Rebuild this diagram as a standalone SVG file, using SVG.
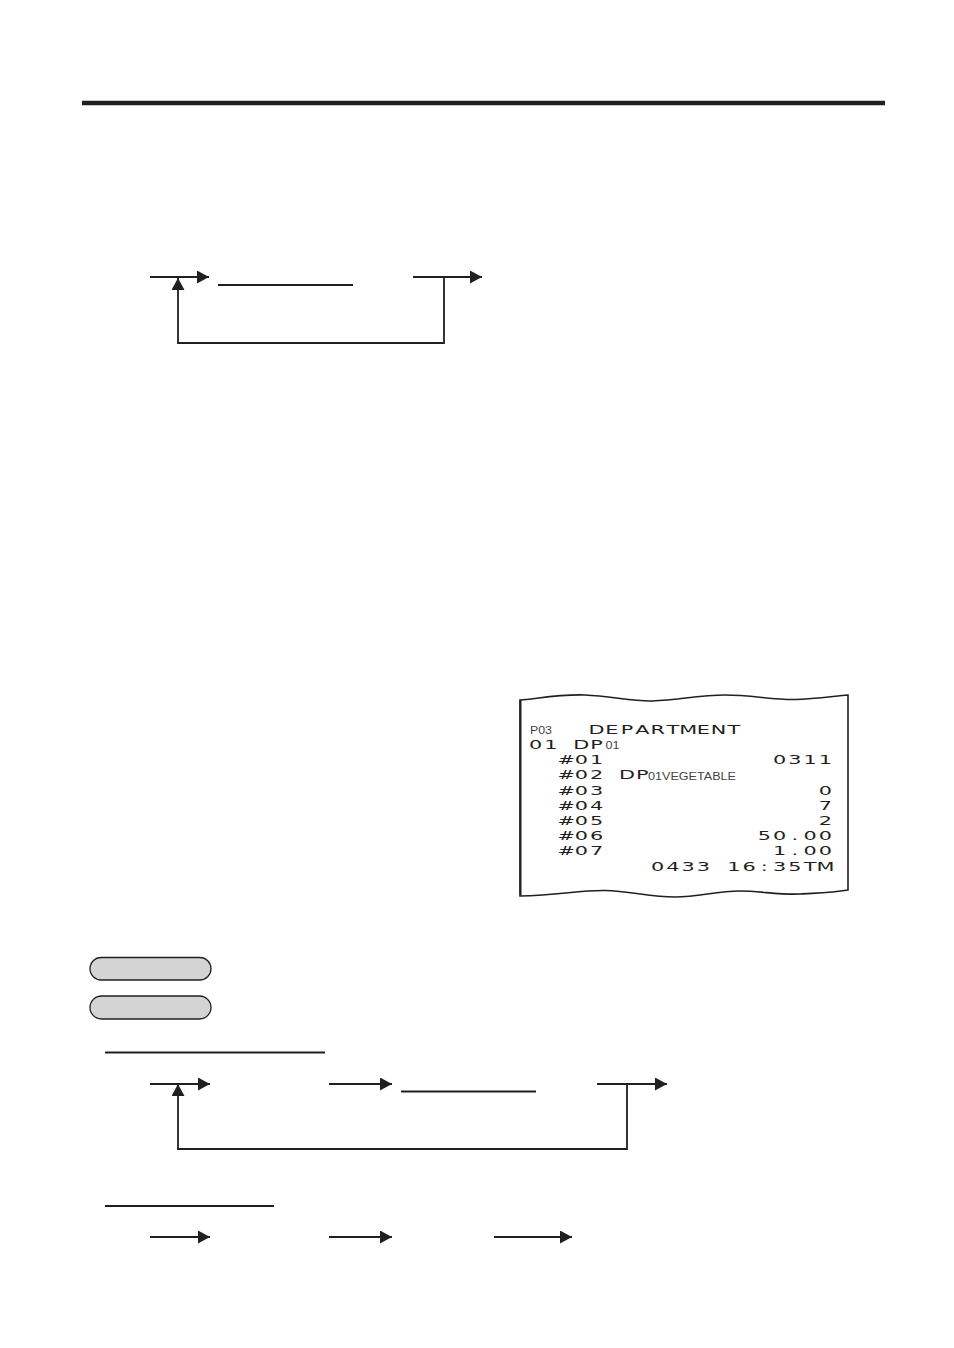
<svg xmlns="http://www.w3.org/2000/svg" width="954" height="1348" viewBox="0 0 954 1348">
<style>
.ln{stroke:#231f20;stroke-width:1.8;fill:none}
.ul{stroke:#231f20;stroke-width:2;fill:none}
.pill{fill:#d4d4d4;stroke:#231f20;stroke-width:1.3}
.rc{font-family:"DejaVu Sans","Liberation Sans",sans-serif;font-size:13px;fill:#231f20;text-anchor:middle}
.sm{font-family:"Liberation Sans",Arial,sans-serif;font-size:10px;fill:#444}
</style>
<defs>
<marker id="ah" markerUnits="userSpaceOnUse" markerWidth="12" markerHeight="13" refX="12" refY="6.5" orient="auto">
<path d="M0,0 L12,6.5 L0,13 Z" fill="#231f20"/>
</marker>
</defs>
<rect width="954" height="1348" fill="#ffffff"/>
<line x1="82" y1="103" x2="885" y2="103" stroke="#231f20" stroke-width="4.5"/>

<g id="connectors">
<line class="ln" x1="150" y1="277" x2="209" y2="277" marker-end="url(#ah)"/>
<line class="ln" x1="413" y1="277" x2="482" y2="277" marker-end="url(#ah)"/>
<polyline class="ln" points="444,277 444,343 178,343 178,278" marker-end="url(#ah)"/>
<line class="ln" x1="150" y1="1084" x2="210" y2="1084" marker-end="url(#ah)"/>
<line class="ln" x1="329" y1="1084" x2="392" y2="1084" marker-end="url(#ah)"/>
<line class="ln" x1="597" y1="1084" x2="667" y2="1084" marker-end="url(#ah)"/>
<polyline class="ln" points="627,1084 627,1149 178,1149 178,1084" marker-end="url(#ah)"/>
<line class="ln" x1="150" y1="1237" x2="210" y2="1237" marker-end="url(#ah)"/>
<line class="ln" x1="329" y1="1237" x2="392" y2="1237" marker-end="url(#ah)"/>
<line class="ln" x1="494" y1="1237" x2="572" y2="1237" marker-end="url(#ah)"/>
</g>

<g id="underlines">
<line class="ul" x1="218" y1="285" x2="353" y2="285"/>
<line class="ul" x1="105" y1="1052.5" x2="325" y2="1052.5"/>
<line class="ul" x1="401" y1="1091.5" x2="536" y2="1091.5"/>
<line class="ul" x1="105" y1="1206" x2="274" y2="1206"/>
</g>

<g id="key1"><rect class="pill" x="90" y="957.5" width="121" height="22.5" rx="11.25"/></g>
<g id="key2"><rect class="pill" x="90" y="996" width="121" height="23" rx="11.5"/></g>

<g id="receipt">
<path d="M520,700 C535,699 560,694 585,695 C610,696 630,701 650,701 C670,701 700,695 725,695 C750,695 775,700 795,699.5 C815,699 835,696 848,695 L848,890 C830,893 815,893 800,894 C780,895 760,891 740,891 C715,891 700,897 675,897 C650,897 630,891 605,890.5 C580,890 560,895 520,896 Z" fill="#ffffff" stroke="#231f20" stroke-width="1.6"/>
<line x1="520.5" y1="700" x2="520.5" y2="895" stroke="#231f20" stroke-width="2"/>
<g transform="matrix(1.6,0,0,1,528,0)">
<text class="rc" x="42.89 52.42 61.95 71.48 81.02 90.55 100.08 109.61 119.14 128.67" y="734">DEPARTMENT</text>
<text class="rc" x="4.77 14.30" y="749">01</text>
<text class="rc" x="33.36 42.89" y="749">DP</text>
<text class="rc" x="23.83 33.36 42.89" y="764.5">#01</text>
<text class="rc" x="157.27 166.8 176.33 185.86" y="764.5">0311</text>
<text class="rc" x="23.83 33.36 42.89" y="779.5">#02</text>
<text class="rc" x="61.95 71.48" y="779.5">DP</text>
<text class="rc" x="23.83 33.36 42.89" y="795">#03</text>
<text class="rc" x="185.86" y="795">0</text>
<text class="rc" x="23.83 33.36 42.89" y="810">#04</text>
<text class="rc" x="185.86" y="810">7</text>
<text class="rc" x="23.83 33.36 42.89" y="825">#05</text>
<text class="rc" x="185.86" y="825">2</text>
<text class="rc" x="23.83 33.36 42.89" y="840.5">#06</text>
<text class="rc" x="147.73 157.27 166.8 176.33 185.86" y="840.5">50.00</text>
<text class="rc" x="23.83 33.36 42.89" y="855.5">#07</text>
<text class="rc" x="157.27 166.8 176.33 185.86" y="855.5">1.00</text>
<text class="rc" x="81.02 90.55 100.08 109.61 119.14 128.67 138.2 147.73 157.27 166.8 176.33 185.86" y="871">0433 16:35TM</text>
</g>
<text class="sm" x="530" y="734" textLength="22" lengthAdjust="spacingAndGlyphs">P03</text>
<text class="sm" x="605.5" y="749" textLength="14" lengthAdjust="spacingAndGlyphs">01</text>
<text class="sm" x="648" y="779.5" textLength="88" lengthAdjust="spacingAndGlyphs">01VEGETABLE</text>
</g>
</svg>
